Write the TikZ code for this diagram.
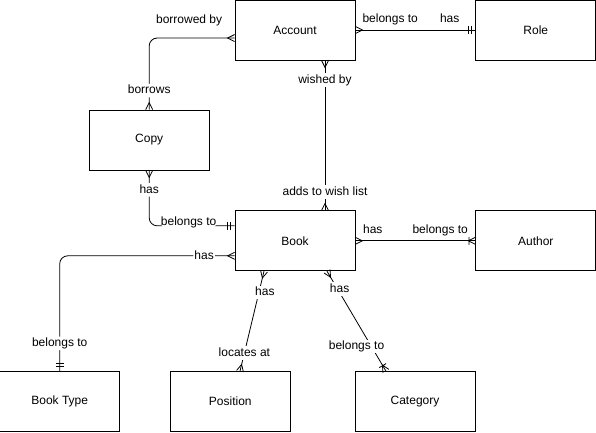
\documentclass[tikz,border=0pt]{standalone}
\usepackage{fontspec}
\setmainfont{Liberation Sans}
\usetikzlibrary{positioning}

% crow's foot ends
\pgfdeclarearrow{
  name = Crow,
  parameters = {\the\pgflinewidth},
  setup code = {
    \pgfarrowssettipend{0pt}
    \pgfarrowssetlineend{0pt}
    \pgfarrowssetbackend{-7pt}
    \pgfarrowshullpoint{0pt}{3.5pt}
    \pgfarrowshullpoint{0pt}{-3.5pt}
    \pgfarrowshullpoint{-7pt}{0pt}
  },
  drawing code = {
    \pgfpathmoveto{\pgfqpoint{0pt}{3.5pt}}
    \pgfpathlineto{\pgfqpoint{-7pt}{0pt}}
    \pgfpathlineto{\pgfqpoint{0pt}{-3.5pt}}
    \pgfusepathqstroke
  }
}
\pgfdeclarearrow{
  name = CrowBar,
  parameters = {\the\pgflinewidth},
  setup code = {
    \pgfarrowssettipend{0pt}
    \pgfarrowssetlineend{0pt}
    \pgfarrowssetbackend{-7pt}
    \pgfarrowshullpoint{0pt}{4pt}
    \pgfarrowshullpoint{0pt}{-4pt}
    \pgfarrowshullpoint{-7pt}{4pt}
    \pgfarrowshullpoint{-7pt}{-4pt}
  },
  drawing code = {
    \pgfpathmoveto{\pgfqpoint{0pt}{3.5pt}}
    \pgfpathlineto{\pgfqpoint{-7pt}{0pt}}
    \pgfpathlineto{\pgfqpoint{0pt}{-3.5pt}}
    \pgfpathmoveto{\pgfqpoint{-6.5pt}{4pt}}
    \pgfpathlineto{\pgfqpoint{-6.5pt}{-4pt}}
    \pgfusepathqstroke
  }
}
\pgfdeclarearrow{
  name = TwoBar,
  parameters = {\the\pgflinewidth},
  setup code = {
    \pgfarrowssettipend{0pt}
    \pgfarrowssetlineend{0pt}
    \pgfarrowssetbackend{-8pt}
    \pgfarrowshullpoint{0pt}{4pt}
    \pgfarrowshullpoint{0pt}{-4pt}
    \pgfarrowshullpoint{-8pt}{4pt}
    \pgfarrowshullpoint{-8pt}{-4pt}
  },
  drawing code = {
    \pgfpathmoveto{\pgfqpoint{-4.5pt}{4pt}}
    \pgfpathlineto{\pgfqpoint{-4.5pt}{-4pt}}
    \pgfpathmoveto{\pgfqpoint{-7.5pt}{4pt}}
    \pgfpathlineto{\pgfqpoint{-7.5pt}{-4pt}}
    \pgfusepathqstroke
  }
}

\begin{document}
\begin{tikzpicture}[line width=0.8pt,
  every node/.style = {font=\fontsize{12}{14}\selectfont},
  main/.style = {draw, rectangle, minimum width=120pt, minimum height=60pt},
  lbl/.style = {fill=white, inner sep=1pt, text height=9pt, text depth=2.5pt}]
\useasboundingbox (0,0) rectangle (596pt,-432pt);
\node[main] (1) at (295pt,-30pt) {Account};
\node[main] (2) [right=120pt of 1] {Role};
\node[main] (4) [below=150pt of 1] {Book};
\node[main] (3) [above left=40pt and 25pt of 4] {Copy};
\node[main] (5) [right=120pt of 4] {Author};
\node[main] (6) [below left=100pt and 114.5pt of 4] {Book Type};
\node[main] (7) [below=100pt of 4, xshift=-64.7pt] {Position};
\node[main] (8) [below=100pt of 4, xshift=120pt] {Category};
\draw[Crow-Crow, rounded corners=8pt] ([yshift=-8pt]1.west) -| node[lbl, pos=0.266, above=11pt] {borrowed by} node[lbl, pos=0.868] {borrows} (3.north);
\draw[Crow-TwoBar] (1.east) -- node[lbl, pos=0.29, above=3.2pt] {belongs to} node[lbl, pos=0.786, above=3.2pt] {has} (2.west);
\draw[Crow-Crow] ([xshift=30pt]1.south) -- node[lbl, pos=0.13] {wished by} node[lbl, pos=0.878] {adds to wish list} ([xshift=30pt]4.north);
\draw[Crow-TwoBar, rounded corners=8pt] (3.south) |- node[lbl, pos=0.176] {has} node[lbl, pos=0.731, yshift=4pt] {belongs to} ([yshift=15pt]4.west);
\draw[Crow-TwoBar, rounded corners=8pt] ([yshift=-15pt]4.west) -| node[lbl, pos=0.087] {has} node[lbl, pos=0.879] {belongs to} (6.north);
\draw[Crow-CrowBar] (4.east) -- node[lbl, pos=0.145, above=3.2pt] {has} node[lbl, pos=0.707, above=3.2pt] {belongs to} (5.west);
\draw[Crow-Crow] ([xshift=-31pt]4.south) -- node[lbl, pos=0.214, xshift=6pt] {has} node[lbl, pos=0.8175] {locates at} ([xshift=9.7pt]7.north);
\draw[Crow-CrowBar] ([xshift=32pt]4.south) -- node[lbl, pos=0.18, xshift=2pt] {has} node[lbl, pos=0.755, xshift=-15pt] {belongs to} ([xshift=-29pt]8.north);
\end{tikzpicture}
\end{document}
